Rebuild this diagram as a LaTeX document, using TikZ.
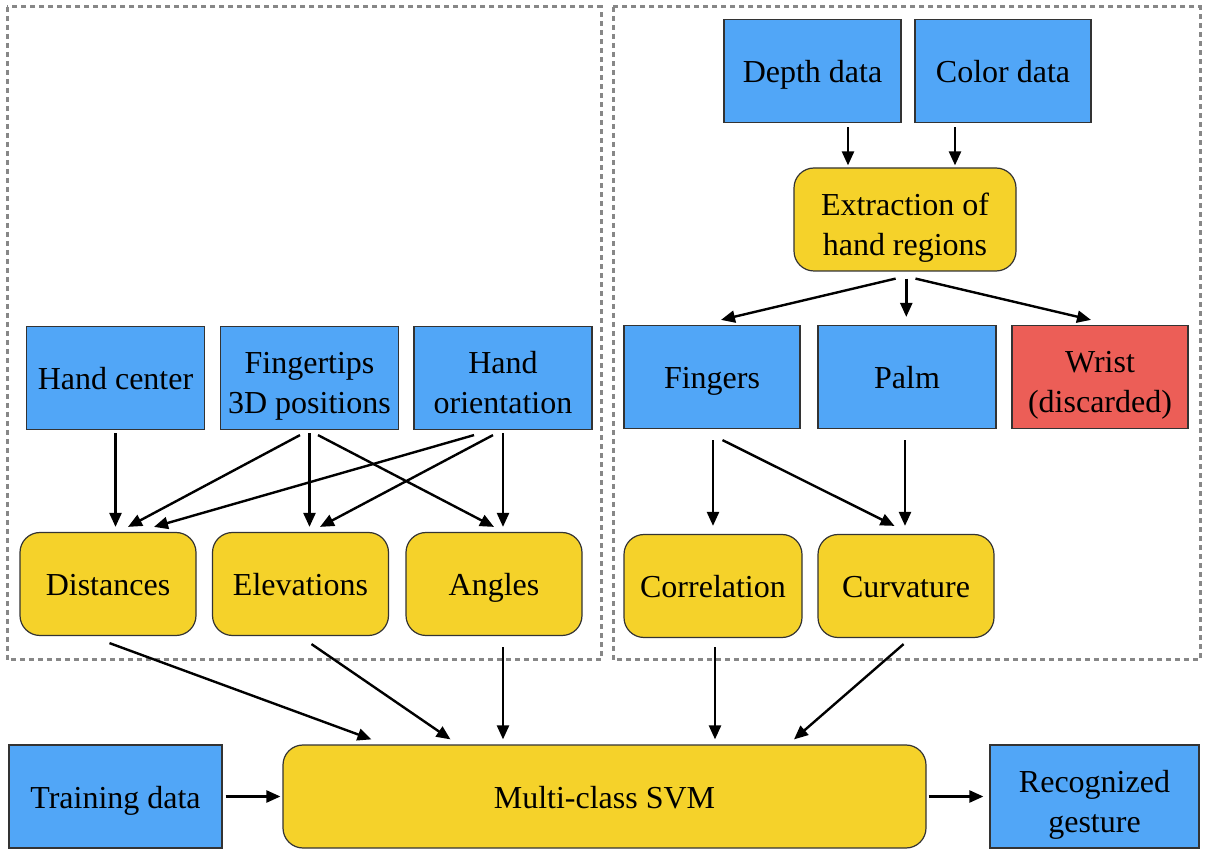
\documentclass[tikz,border=0pt]{standalone}
\usepackage{fontspec}
\setmainfont{Liberation Serif}
\usetikzlibrary{arrows.meta}
\definecolor{boxblue}{HTML}{51A6F7}
\definecolor{boxyellow}{HTML}{F5D22A}
\definecolor{boxred}{HTML}{EC5E57}
\definecolor{framegray}{HTML}{878787}
\definecolor{edgegray}{HTML}{333333}
\newcommand\boxstrut{\rule[-3.5pt]{0pt}{19pt}}
\newcommand\tallstrut{\rule[-3.5pt]{0pt}{23pt}}
\begin{document}
\begin{tikzpicture}[x=0.5pt,y=-0.5pt,
  base/.style={draw=edgegray,line width=0.6pt,align=center,inner sep=1pt,
    font=\fontsize{16}{20}\selectfont,minimum height=51.5pt},
  oneline/.style={execute at begin node=\boxstrut, execute at end node=\boxstrut},
  bluebox/.style={base,fill=boxblue,minimum width=89pt},
  redbox/.style={base,fill=boxred,minimum width=88pt},
  ybox/.style={base,fill=boxyellow,rounded corners=10pt,minimum width=88pt},
  frame/.style={draw=framegray,line width=1.5pt,dash pattern=on 2.5pt off 2pt},
  arr/.style={-{Triangle[length=7pt,width=6pt]},line width=1.2pt,black}
]
\useasboundingbox (0,0) rectangle (1223,861);
% frames
\draw[frame] (7,7) rectangle (601,660);
\draw[frame] (613,7) rectangle (1200,660);
% left group
\node[bluebox,oneline] (hc) at (115.5,378) {Hand center};
\node[bluebox] (ft) at (309.5,378) {\tallstrut Fingertips\\3D positions\boxstrut};
\node[bluebox] (ho) at (503,378) {\tallstrut Hand\\orientation\boxstrut};
\node[ybox,oneline] (dist) at (108,584) {Distances};
\node[ybox,oneline] (elev) at (300.5,584) {Elevations};
\node[ybox,oneline] (ang) at (494,584) {Angles};
% right group
\node[bluebox,oneline,minimum width=88.5pt] (depth) at (812.5,71) {Depth data};
\node[bluebox,oneline,minimum width=88pt] (color) at (1003,71) {Color data};
\node[ybox,minimum width=111pt] (ext) at (905,219.5) {\tallstrut Extraction of\\hand regions\boxstrut};
\node[bluebox,oneline,minimum width=88pt] (fing) at (712,377) {Fingers};
\node[bluebox,oneline,minimum width=89pt] (palm) at (907,377) {Palm};
\node[redbox] (wrist) at (1100,377) {\tallstrut Wrist\\(discarded)\boxstrut};
\node[ybox,oneline,minimum width=89pt] (corr) at (713,586) {Correlation};
\node[ybox,oneline] (curv) at (906,586) {Curvature};
% bottom
\node[bluebox,oneline,minimum width=106.5pt] (train) at (115.5,796.5) {Training data};
\node[ybox,oneline,minimum width=321.5pt] (svm) at (604.5,796.5) {Multi-class SVM};
\node[bluebox,minimum width=104.5pt] (rec) at (1094.5,796.5) {\tallstrut Recognized\\gesture\boxstrut};
% arrows: left group
\draw[arr] ([yshift=-1.5pt]hc.south) -- ([xshift=3.75pt,yshift=2.5pt]dist.north);
\draw[arr] ([xshift=-4.75pt,yshift=-2.5pt]ft.south) -- ([xshift=10pt,yshift=2.5pt]dist.north);
\draw[arr] ([xshift=-14.5pt,yshift=-2.5pt]ho.south) -- ([xshift=23pt,yshift=2.5pt]dist.north);
\draw[arr] ([yshift=-1.5pt]ft.south) -- ([xshift=4.5pt,yshift=2.5pt]elev.north);
\draw[arr] ([xshift=-5pt,yshift=-2.5pt]ho.south) -- ([xshift=9.75pt,yshift=2.5pt]elev.north);
\draw[arr] ([xshift=4.25pt,yshift=-2.5pt]ft.south) -- ([yshift=2.5pt]ang.north);
\draw[arr] ([yshift=-1.5pt]ho.south) -- ([xshift=4.5pt,yshift=2.5pt]ang.north);
% to SVM
\draw[arr] ([xshift=0.75pt,yshift=-3.5pt]dist.south) -- ([xshift=-116.5pt,yshift=2.5pt]svm.north);
\draw[arr] ([xshift=5.5pt,yshift=-4pt]elev.south) -- ([xshift=-77pt,yshift=2.5pt]svm.north);
\draw[arr] ([xshift=4.5pt,yshift=-5.5pt]ang.south) -- ([xshift=-50.75pt,yshift=2.5pt]svm.north);
\draw[arr] ([xshift=1pt,yshift=-4.5pt]corr.south) -- ([xshift=55.25pt,yshift=2.5pt]svm.north);
\draw[arr] ([xshift=-1.2pt,yshift=-3pt]curv.south) -- ([xshift=94.75pt,yshift=2.5pt]svm.north);
\draw[arr] ([xshift=1.5pt]train.east) -- ([xshift=-1pt]svm.west);
\draw[arr] ([xshift=1pt]svm.east) -- ([xshift=-3pt]rec.west);
% right group
\draw[arr] ([xshift=17.75pt,yshift=-2pt]depth.south) -- ([xshift=-28.5pt,yshift=1pt]ext.north);
\draw[arr] ([xshift=-24pt,yshift=-2pt]color.south) -- ([xshift=25pt,yshift=1pt]ext.north);
\draw[arr] ([xshift=-4.7pt,yshift=-3.5pt]ext.south) -- ([xshift=4.5pt,yshift=2.5pt]fing.north);
\draw[arr] ([xshift=0.65pt,yshift=-3.5pt]ext.south) -- ([xshift=-0.35pt,yshift=4pt]palm.north);
\draw[arr] ([xshift=5.25pt,yshift=-3.5pt]ext.south) -- ([xshift=-4.5pt,yshift=2.5pt]wrist.north);
\draw[arr] ([xshift=0.5pt,yshift=-5.5pt]fing.south) -- ([xshift=0pt,yshift=4pt]corr.north);
\draw[arr] ([xshift=5.25pt,yshift=-5.5pt]fing.south) -- ([xshift=-5.75pt,yshift=4pt]curv.north);
\draw[arr] ([xshift=-1pt,yshift=-5.5pt]palm.south) -- ([xshift=-0.5pt,yshift=4pt]curv.north);
\end{tikzpicture}
\end{document}
